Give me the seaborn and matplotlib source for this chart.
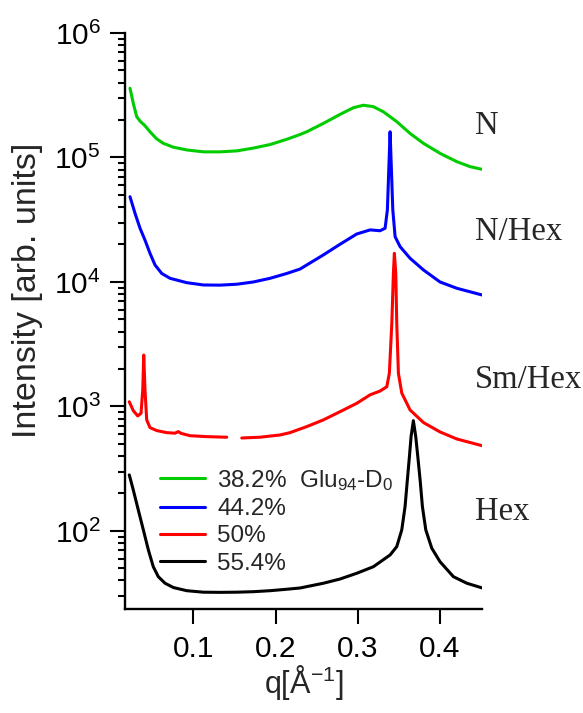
import numpy as np
import pandas as pd
import matplotlib
matplotlib.use("Agg")
import matplotlib.pyplot as plt
import seaborn as sns

# ---- SAXS profiles: q [1/Å] and intensity [arb. units] ----
q_382 = [0.0230, 0.0270, 0.0311, 0.0352, 0.0412, 0.0473, 0.0555, 0.0635, 0.0757, 0.0920,
         0.1122, 0.1325, 0.1528, 0.1730, 0.1933, 0.2136, 0.2298, 0.2380, 0.2582, 0.2785,
         0.2946, 0.3068, 0.3190, 0.3311, 0.3474, 0.3636, 0.3798, 0.4000, 0.4204, 0.4366,
         0.4508]
i_382 = [3.60e5, 2.72e5, 2.13e5, 1.96e5, 1.80e5, 1.61e5, 1.41e5, 1.30e5, 1.21e5, 1.15e5,
         1.11e5, 1.11e5, 1.13e5, 1.19e5, 1.27e5, 1.40e5, 1.53e5, 1.61e5, 1.88e5, 2.22e5,
         2.51e5, 2.63e5, 2.56e5, 2.33e5, 1.94e5, 1.56e5, 1.30e5, 1.08e5, 9.26e4, 8.44e4,
         8.04e4]

q_442 = [0.0230, 0.0291, 0.0352, 0.0412, 0.0473, 0.0534, 0.0616, 0.0717, 0.0920, 0.1122,
         0.1325, 0.1528, 0.1730, 0.1933, 0.2136, 0.2298, 0.2380, 0.2582, 0.2785, 0.2988,
         0.3150, 0.3271, 0.3332, 0.3360, 0.3381, 0.3393, 0.3405, 0.3426, 0.3454, 0.3515,
         0.3636, 0.3798, 0.4000, 0.4204, 0.4508]
i_442 = [4.84e4, 3.56e4, 2.70e4, 2.17e4, 1.70e4, 1.37e4, 1.17e4, 1.07e4, 9.87e3, 9.46e3,
         9.43e3, 9.59e3, 1.00e4, 1.07e4, 1.17e4, 1.27e4, 1.37e4, 1.65e4, 2.01e4, 2.43e4,
         2.62e4, 2.58e4, 2.70e4, 3.79e4, 9.50e4, 1.61e5, 9.50e4, 3.79e4, 2.31e4, 1.92e4,
         1.55e4, 1.25e4, 1.00e4, 8.90e3, 7.87e3]

# 50 % sample: the profile has a short detector gap, stored as two segments
q_50a = [0.0221, 0.0270, 0.0324, 0.0364, 0.0385, 0.0397, 0.0412, 0.0433, 0.0473, 0.0555,
         0.0676, 0.0777, 0.0818, 0.0850, 0.0960, 0.1163, 0.1406]
i_50a = [1.09e3, 925, 839, 881, 1.36e3, 2.59e3, 1.36e3, 780, 676, 640,
         616, 610, 628, 608, 582, 572, 566]
q_50b = [0.1589, 0.1811, 0.2055, 0.2176, 0.2380, 0.2582, 0.2785, 0.2988, 0.3150, 0.3271,
         0.3353, 0.3384, 0.3414, 0.3433, 0.3445, 0.3462, 0.3474, 0.3494, 0.3535, 0.3636,
         0.3798, 0.4000, 0.4204, 0.4521]
i_50b = [558, 566, 590, 616, 689, 780, 908, 1.06e3, 1.24e3, 1.33e3,
         1.44e3, 1.85e3, 4.66e3, 1.17e4, 1.70e4, 1.17e4, 4.66e3, 1.85e3, 1.28e3, 937,
         743, 624, 548, 482]

q_554 = [0.0221, 0.0270, 0.0331, 0.0392, 0.0453, 0.0513, 0.0574, 0.0656, 0.0757, 0.0920,
         0.1122, 0.1325, 0.1528, 0.1730, 0.1933, 0.2136, 0.2298, 0.2380, 0.2582, 0.2785,
         0.2988, 0.3190, 0.3393, 0.3474, 0.3535, 0.3575, 0.3603, 0.3628, 0.3648, 0.3676,
         0.3705, 0.3730, 0.3758, 0.3786, 0.3827, 0.3900, 0.4000, 0.4163, 0.4326, 0.4521]
i_554 = [282, 213, 147, 102, 70.4, 51.6, 42.9, 38.0, 35.1, 33.1,
         32.2, 32.1, 32.2, 32.5, 33.1, 34.0, 34.8, 35.7, 38.0, 41.1,
         45.7, 51.6, 64.1, 74.8, 102, 157, 257, 395, 572, 769,
         572, 395, 257, 157, 102, 72.6, 56.6, 42.9, 38.0, 34.7]

labels = ["38.2%  Glu$_{94}$-D$_0$", "44.2%", "50%", "55.4%"]
colors = ["#00cc00", "#0000ff", "#ff0000", "#000000"]

phase_names = ["N", "N/Hex", "Sm/Hex", "Hex"]
phase_y = [1.79e5, 2.52e4, 1.63e3, 142]

x_ticks = [0.1, 0.2, 0.3, 0.4]
x_tick_labels = ["0.1", "0.2", "0.3", "0.4"]

# ---- style ----
sns.set_style("ticks")
plt.rcParams["font.family"] = ["Liberation Sans", "DejaVu Sans"]
plt.rcParams["mathtext.fontset"] = "custom"
plt.rcParams["mathtext.rm"] = "Liberation Sans"
plt.rcParams["mathtext.it"] = "Liberation Sans:italic"
plt.rcParams["mathtext.bf"] = "Liberation Sans:bold"

fig = plt.figure(figsize=(5.83, 7.13), dpi=100)
ax = fig.add_axes([0.2144, 0.1459, 0.6124, 0.8078])

series = [(q_382, i_382), (q_442, i_442), (q_50a, i_50a), (q_554, i_554)]
handles = []
for (q, inten), lab, col in zip(series, labels, colors):
    sns.lineplot(x=q, y=inten, ax=ax, color=col, lw=2.2, estimator=None,
                 sort=False, label=lab, legend=False)
    handles.append(ax.get_lines()[-1])
# second half of the 50 % profile
sns.lineplot(x=q_50b, y=i_50b, ax=ax, color=colors[2], lw=2.2, estimator=None,
             sort=False, legend=False)
for ln in ax.get_lines():
    ln.set_solid_joinstyle("round")
    ln.set_solid_capstyle("round")

ax.set_yscale("log")
ax.set_xlim(0.0169, 0.4511)
ax.set_ylim(10 ** 1.373, 1e6)
ax.set_xticks(x_ticks)
ax.set_xticklabels(x_tick_labels)
ax.xaxis.set_minor_locator(matplotlib.ticker.NullLocator())

sns.despine(ax=ax)
for side in ("left", "bottom"):
    ax.spines[side].set_linewidth(1.7)
    ax.spines[side].set_color("black")

ax.tick_params(axis="both", which="major", direction="out", length=10.5, width=1.5,
               labelsize=21.5, colors="black")
ax.tick_params(axis="y", which="minor", direction="out", length=5, width=1.5, colors="black")
ax.tick_params(axis="y", which="major", pad=7)
ax.tick_params(axis="x", which="major", pad=8)

ax.set_xlabel("q[Å$^{-1}$]", fontsize=22, labelpad=0)
ax.set_ylabel("Intensity [arb. units]", fontsize=24.5)
ax.yaxis.set_label_coords(-0.23, 0.554)

for name, yv in zip(phase_names, phase_y):
    ax.text(0.4427, yv, name, fontsize=23.5, family="Liberation Serif",
            ha="left", va="center", clip_on=False)

leg = ax.legend(handles=handles, labels=labels, loc="upper left",
                bbox_to_anchor=(0.098, 0.245), frameon=False, fontsize=17.5,
                handlelength=1.85, handletextpad=0.5, labelspacing=0.22,
                borderpad=0, borderaxespad=0)

fig.savefig("out.png", dpi=100)
